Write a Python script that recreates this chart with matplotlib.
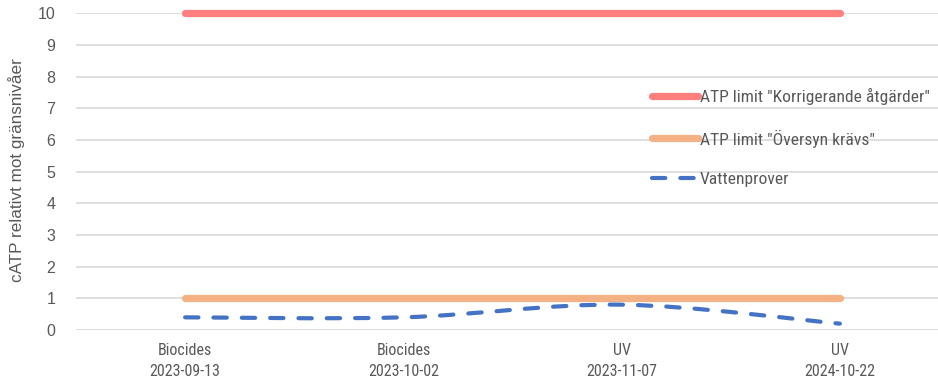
import matplotlib
matplotlib.use("Agg")
import matplotlib.pyplot as plt
from matplotlib.path import Path
from matplotlib.patches import PathPatch
from matplotlib.lines import Line2D
import numpy as np

# Sample categories (treatment + date)
categories = ["Biocides\n2023-09-13", "Biocides\n2023-10-02", "UV\n2023-11-07", "UV\n2024-10-22"]
limit_corrective = [10, 10, 10, 10]
limit_review = [1, 1, 1, 1]
water_samples = [0.4, 0.4, 0.8, 0.2]
y_ticks = list(range(0, 11))

labels = ['ATP limit "Korrigerande åtgärder"', 'ATP limit "Översyn krävs"', "Vattenprover"]
colors = ["#FF7F7F", "#F4B183", "#4472C4"]
text_color = "#595959"
regular = ["Liberation Sans", "DejaVu Sans"]

plt.rcParams["font.family"] = ["Roboto Condensed", "Liberation Sans", "DejaVu Sans"]

fig = plt.figure(figsize=(9.38, 3.82), dpi=100)
W, H = 938, 382
left, right, top, bottom = 76, 949, 13.3, 330
ax = fig.add_axes([left / W, 1 - bottom / H, (right - left) / W, (bottom - top) / H])

x = np.arange(len(categories))

ax.plot(x, limit_corrective, color=colors[0], lw=5.2, solid_capstyle="round", zorder=3, clip_on=False)
ax.plot(x, limit_review, color=colors[1], lw=5.2, solid_capstyle="round", zorder=3, clip_on=False)


def smooth_path(xs, ys):
    """Cubic Bezier path through the points, with Catmull-Rom style tangents."""
    pts = np.column_stack([xs, ys]).astype(float)
    n = len(pts)
    verts = [pts[0]]
    codes = [Path.MOVETO]
    for i in range(n - 1):
        p0 = pts[i - 1] if i > 0 else pts[i]
        p1 = pts[i]
        p2 = pts[i + 1]
        p3 = pts[i + 2] if i + 2 < n else pts[i + 1]
        c1 = p1 + (p2 - p0) / 6.0
        c2 = p2 - (p3 - p1) / 6.0
        verts += [c1, c2, p2]
        codes += [Path.CURVE4] * 3
    return Path(verts, codes)


patch = PathPatch(smooth_path(x, water_samples), facecolor="none", edgecolor=colors[2],
                  lw=3.0, linestyle=(0, (3.2, 3.6)), capstyle="round", zorder=3)
ax.add_patch(patch)

ax.set_xlim(-0.5, len(categories) - 0.5)
ax.set_ylim(0, 10)
ax.set_yticks(y_ticks)
ax.set_xticks(x)
ax.set_xticklabels(categories, fontsize=11.5, color=text_color, linespacing=1.5)
ax.tick_params(axis="y", length=0, pad=15, labelsize=11.5, labelcolor=text_color)
ax.tick_params(axis="x", length=0, pad=9.5)
for lab in ax.get_yticklabels():
    lab.set_family(regular)
ax.grid(axis="y", color="#D9D9D9", lw=1.2, zorder=0)
for s in ax.spines.values():
    s.set_visible(False)

fig.text(17 / W, 1 - 170 / H, "cATP relativt mot gränsnivåer", rotation=90,
         ha="center", va="center", fontsize=12.3, color=text_color, family=regular)

handles = [
    Line2D([], [], color=colors[0], lw=5.2, solid_capstyle="round"),
    Line2D([], [], color=colors[1], lw=5.2, solid_capstyle="round"),
    Line2D([], [], color=colors[2], lw=3.0, linestyle=(0, (3.2, 3.6)), dash_capstyle="round"),
]
leg = fig.legend(handles, labels, loc="upper left", bbox_to_anchor=(652 / W, 1 - 88 / H),
                 frameon=False, fontsize=12.6, handlelength=2.6, handletextpad=0.15,
                 labelspacing=1.4, borderpad=0, borderaxespad=0)
for t in leg.get_texts():
    t.set_color(text_color)

fig.savefig("out.png", dpi=100)
